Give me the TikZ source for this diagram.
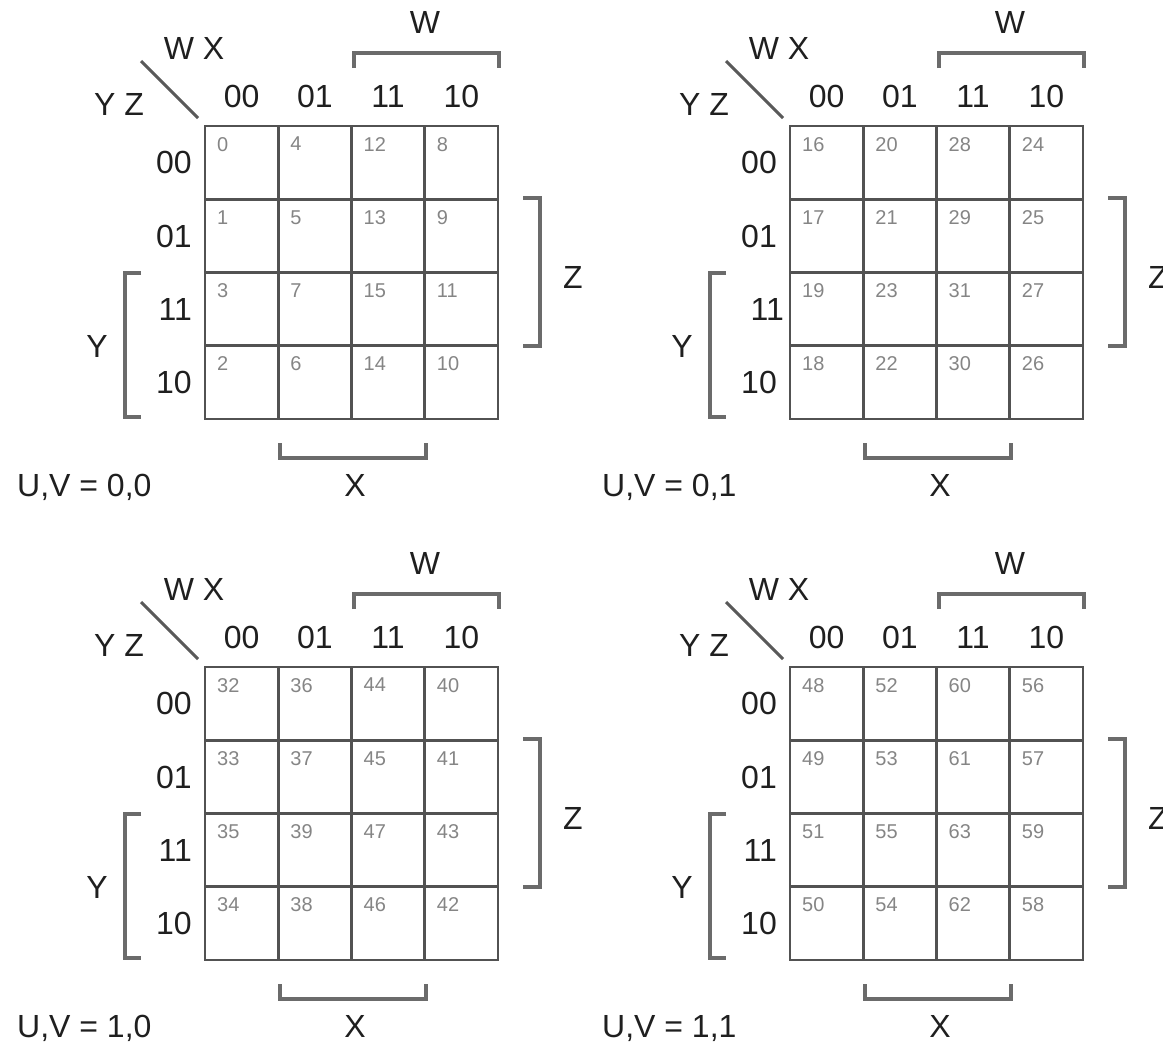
\documentclass[tikz,border=0pt]{standalone}
\usepackage{fontspec}
\setmainfont{Liberation Sans}
\usetikzlibrary{positioning,calc}

\begin{document}
\begin{tikzpicture}[
  x=1pt, y=-1pt,
  gridline/.style={draw=black!68, line width=2.8pt},
  bracket/.style={draw=black!58, line width=4pt, line join=miter},
  slash/.style={draw=black!65, line width=3pt},
  axislabel/.style={font=\fontsize{32}{32}\selectfont, text=black!88, inner sep=0pt, text depth=0pt},
  cellnum/.style={font=\fontsize{20}{20}\selectfont, text=black!48, inner sep=0pt, anchor=north west},
]
  \useasboundingbox (0,0) rectangle (1163,1042);

  % One map per (U,V) pair
  \foreach \mapx/\mapy/\mapbase/\mapuv/\mapid/\rowshift in {205/126/0/{0,0}/a/0, 790/126/16/{0,1}/b/7,
                                                          205/667/32/{1,0}/c/0, 790/667/48/{1,1}/d/0} {
    \begin{scope}[shift={(\mapx,\mapy)}]
      % Grid
      \draw[gridline] (0,0) rectangle (293,293);
      \foreach \kk in {1,2,3} {
        \draw[gridline] (73.25*\kk,0) -- (73.25*\kk,293);
        \draw[gridline] (0,73.25*\kk) -- (293,73.25*\kk);
      }

      % Cell numbers
      \foreach \col/\colcode in {0/0,1/1,2/3,3/2} {
        \foreach \row/\rowcode in {0/0,1/1,2/3,3/2} {
          \pgfmathtruncatemacro\cellval{\mapbase+4*\colcode+\rowcode}
          \node[cellnum] (\mapid-n\col\row) at (73.25*\col+12,73.25*\row+11) {\cellval};
        }
      }

      % Column and row codes
      \foreach \col/\lab in {0/00,1/01,2/11,3/10}
        \node[axislabel] (\mapid-col\col) at (73.25*\col+36.6,-30) {\lab};
      \foreach \row/\lab in {0/00,1/01,3/10}
        \node[axislabel, anchor=east] (\mapid-row\row) at (-13,73.25*\row+36.6) {\lab};
      \node[axislabel, anchor=east] (\mapid-row2) at (-13+\rowshift,73.25*2+36.6) {11};

      % Corner
      \node[axislabel] (\mapid-wx) at (-11,-78) {W X};
      \node[axislabel] (\mapid-yz) at (-86,-22) {Y Z};
      \draw[slash] (-64,-65) -- (-7,-8);

      % Brackets
      \draw[bracket] (149,-58) -- (149,-73) -- (294,-73) -- (294,-58);
      \node[axislabel] (\mapid-w) at (220,-104) {W};
      \draw[bracket] (318,72) -- (335,72) -- (335,220) -- (318,220);
      \node[axislabel] (\mapid-z) at (368,151) {Z};
      \draw[bracket] (-64,147) -- (-80,147) -- (-80,291) -- (-64,291);
      \node[axislabel] (\mapid-y) at (-108,220) {Y};
      \draw[bracket] (75,317) -- (75,332) -- (221,332) -- (221,317);
      \node[axislabel] (\mapid-x) at (150,359) {X};

      % U,V value
      \node[axislabel, anchor=west] (\mapid-uv) at (-188,359) {U,V = \mapuv};
    \end{scope}
  }
\end{tikzpicture}
\end{document}
